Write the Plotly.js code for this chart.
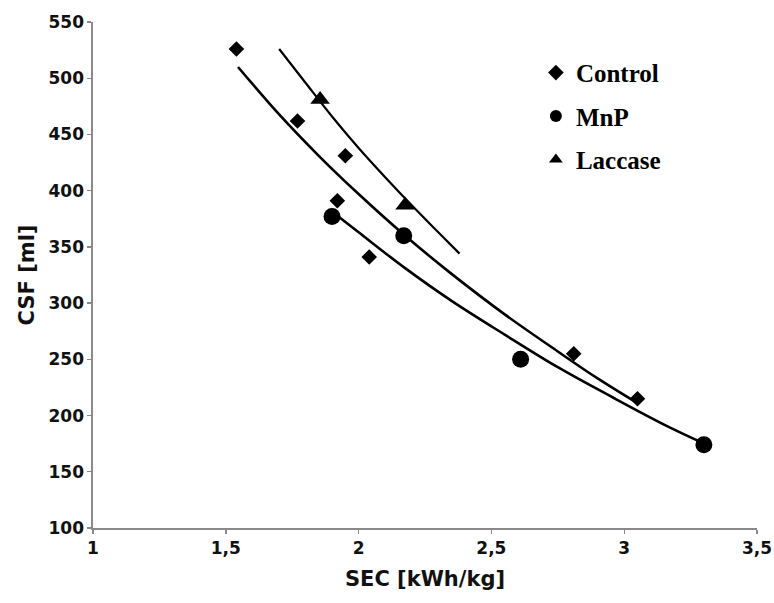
<!DOCTYPE html>
<html>
<head>
<meta charset="utf-8">
<script src="https://cdn.plot.ly/plotly-3.0.1.min.js"></script>
<style>
  html, body { margin: 0; padding: 0; background: #fff; }
  #chart { width: 774px; height: 603px; }
</style>
</head>
<body>
<div id="chart"></div>
<script>
// Measured points
var controlX = [1.54, 1.77, 1.95, 1.92, 2.04, 2.81, 3.05];
var controlY = [526, 462, 431, 391, 341, 255, 215];
var mnpX = [1.90, 2.17, 2.61, 3.30];
var mnpY = [377, 360, 250, 174];
var laccaseX = [1.855, 2.175];
var laccaseY = [481, 387];

// Trend curves
var controlCurveX = [1.546, 1.7, 1.85, 2.0, 2.17, 2.35, 2.55, 2.75, 2.9, 3.05];
var controlCurveY = [510, 468, 431, 397, 361, 326, 290, 257, 233, 211];
var mnpCurveX = [1.897, 2.0, 2.17, 2.35, 2.55, 2.75, 2.95, 3.15, 3.302];
var mnpCurveY = [382, 363, 332, 302, 272, 243, 217, 192, 175];
var laccaseCurveX = [1.701, 1.8, 1.9, 2.0, 2.1, 2.2, 2.3, 2.38];
var laccaseCurveY = [526, 496, 466, 438, 412, 387, 363, 344];

var xTickVals = [1, 1.5, 2, 2.5, 3, 3.5];
var xTickText = ["1", "1,5", "2", "2,5", "3", "3,5"];
var yTickVals = [100, 150, 200, 250, 300, 350, 400, 450, 500, 550];

var lineStyle = {color: '#000', width: 2.6, shape: 'spline'};

var traces = [
  {x: controlCurveX, y: controlCurveY, mode: 'lines', line: lineStyle, showlegend: false, hoverinfo: 'skip'},
  {x: mnpCurveX, y: mnpCurveY, mode: 'lines', line: lineStyle, showlegend: false, hoverinfo: 'skip'},
  {x: laccaseCurveX, y: laccaseCurveY, mode: 'lines', line: {color: '#000', width: 2.2, shape: 'spline'}, showlegend: false, hoverinfo: 'skip'},
  {x: controlX, y: controlY, mode: 'markers', name: 'Control', legendgroup: 'a',
   marker: {symbol: 'diamond', size: 12, color: '#000'}},
  {x: mnpX, y: mnpY, mode: 'markers', name: 'MnP', legendgroup: 'b',
   marker: {symbol: 'circle', size: 17, color: '#000'}},
  {x: laccaseX, y: laccaseY, mode: 'markers', name: 'Laccase', legendgroup: 'c',
   marker: {symbol: 'triangle-up', size: 17, color: '#000'}}
];

var tickFont = {family: 'DejaVu Sans', size: 17, color: '#111', weight: 'bold'};
var titleFont = {family: 'DejaVu Sans', size: 21, color: '#111', weight: 'bold'};

var layout = {
  width: 774, height: 603,
  margin: {l: 93, r: 17, t: 22, b: 75},
  paper_bgcolor: '#fff', plot_bgcolor: '#fff',
  showlegend: true,
  legend: {
    x: 0.667, xanchor: 'left', y: 0.945, yanchor: 'top',
    font: {family: 'Liberation Serif', size: 25, color: '#000', weight: 'bold'},
    itemsizing: 'constant', tracegroupgap: 8,
    bgcolor: 'rgba(0,0,0,0)'
  },
  xaxis: {
    range: [1, 3.5], tickvals: xTickVals, ticktext: xTickText,
    showgrid: false, zeroline: false, showline: true, linecolor: '#8a8a8a', linewidth: 1.6,
    ticks: 'outside', ticklen: 4, tickcolor: '#8a8a8a', tickwidth: 1.4,
    tickfont: tickFont,
    title: {text: 'SEC [kWh/kg]', font: titleFont, standoff: 14}
  },
  yaxis: {
    range: [100, 550], tickvals: yTickVals,
    showgrid: false, zeroline: false, showline: true, linecolor: '#8a8a8a', linewidth: 1.6,
    ticks: 'outside', ticklen: 4, tickcolor: '#8a8a8a', tickwidth: 1.4,
    tickfont: tickFont,
    title: {text: 'CSF [ml]', font: titleFont, standoff: 8}
  }
};

Plotly.newPlot('chart', traces, layout, {displayModeBar: false, staticPlot: true});
</script>
</body>
</html>
